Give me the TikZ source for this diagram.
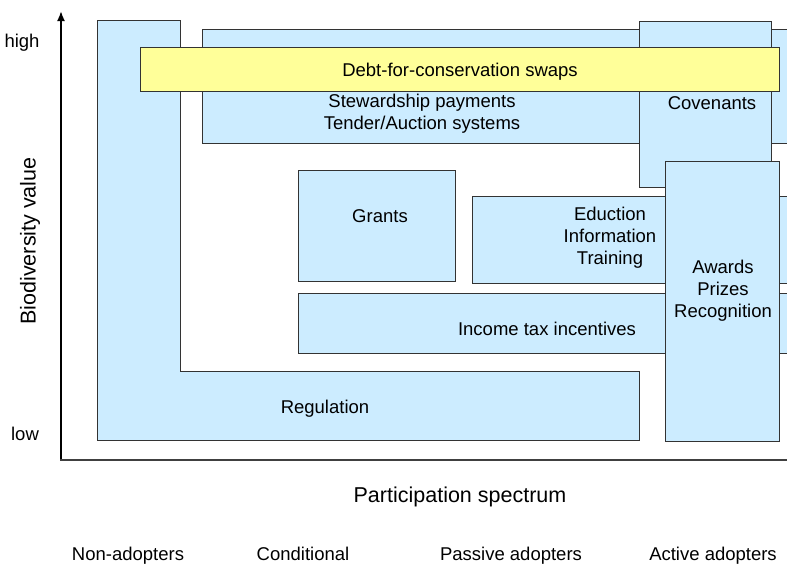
\documentclass[tikz,border=0pt]{standalone}
\usepackage{fontspec}
\setmainfont{Liberation Sans}
\usetikzlibrary{arrows.meta}
\definecolor{boxblue}{HTML}{CCECFF}
\definecolor{boxyellow}{HTML}{FFFF99}
\definecolor{edge}{HTML}{333333}
\begin{document}
\begin{tikzpicture}[x=1pt,y=-1pt,
  box/.style={fill=boxblue,draw=edge,line width=0.9pt},
  ybox/.style={fill=boxyellow,draw=edge,line width=0.9pt},
  lbl/.style={font=\fontsize{18.5}{22}\selectfont,align=center,inner sep=0pt},
  axlbl/.style={font=\fontsize{21.5}{24}\selectfont,inner sep=0pt},
  tick/.style={font=\fontsize{18.5}{22}\selectfont,inner sep=0pt,anchor=base}]
\useasboundingbox (0,0) rectangle (787,566);
\begin{scope}
\clip (0,0) rectangle (787,566);
% Regulation (L-shape)
\draw[box] (97,20) -- (180,20) -- (180,371) -- (639,371) -- (639,440) -- (97,440) -- cycle;
% Stewardship
\draw[box] (202,29) rectangle (800,143);
% Covenants
\draw[box] (639,21) rectangle (771,187);
% Debt-for-conservation
\draw[ybox] (140,47) rectangle (779,91);
% Grants
\draw[box] (298,170) rectangle (455,281);
% Education
\draw[box] (472,196) rectangle (800,283);
% Income tax
\draw[box] (298,293) rectangle (800,353);
% Awards
\draw[box] (665,161) rectangle (779,441);
\end{scope}
\node[lbl] (reg) at (325,409) {Regulation};
\node[lbl] (stew) at (422,114) {Stewardship payments\\Tender/Auction systems};
\node[lbl] (cov) at (712,103) {Covenants};
\node[lbl] (debt) at (460,72) {Debt-for-conservation swaps};
\node[lbl] (grants) at (380,216) {Grants};
\node[lbl] (edu) at (610,238) {Eduction\\Information\\Training};
\node[lbl] (inc) at (547,329) {Income tax incentives};
\node[lbl] (awd) at (723,291) {Awards\\Prizes\\Recognition};
% axes
\coordinate (o) at (61,460);
\coordinate (ytop) at (61,11);
\coordinate (xend) at (787,460);
\draw[line width=1.8pt,-{Latex[length=10pt,width=8pt]}] (o) -- (ytop);
\draw[line width=1.2pt,draw=black!75] ([xshift=-0.9pt]o) -- (xend);
\node[tick] (high) at (22,47) {high};
\node[tick] (low) at (25,440) {low};
\node[axlbl,rotate=90] (bv) at (30,241) {Biodiversity value};
\node[axlbl] (ps) at (460,497) {Participation spectrum};
\node[tick] (na) at (128,560) {Non-adopters};
\node[tick] (cd) at (303,560) {Conditional};
\node[tick] (pa) at (511,560) {Passive adopters};
\node[tick] (aa) at (713,560) {Active adopters};
\end{tikzpicture}
\end{document}
